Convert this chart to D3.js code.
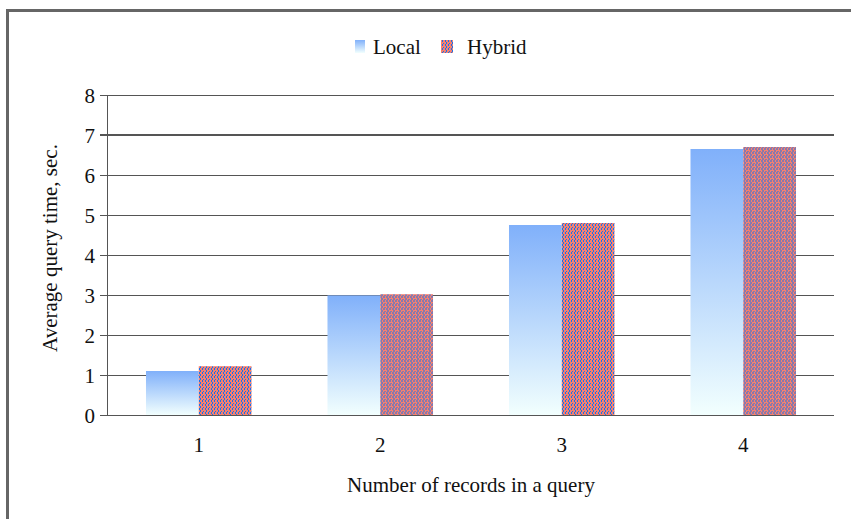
<!DOCTYPE html>
<html><head><meta charset="utf-8">
<script src="https://cdn.jsdelivr.net/npm/d3@7"></script>
<style>body{margin:0;background:#fff}svg{display:block}text{font-family:"Liberation Serif","Times New Roman",serif;fill:#111}</style>
</head><body><svg id="c" width="851" height="519"></svg>
<script>
const categories = ["1","2","3","4"];
const seriesNames = ["Local","Hybrid"];
const localValues = [1.1, 2.99, 4.75, 6.65];
const hybridValues = [1.22, 3.02, 4.8, 6.7];
const yTicks = [0,1,2,3,4,5,6,7,8];

(function(){
const svg = d3.select("#c");
const defs = svg.append("defs");
const grad = defs.append("linearGradient").attr("id","gLocal").attr("x1",0).attr("y1",0).attr("x2",0).attr("y2",1);
grad.append("stop").attr("offset","0%").attr("stop-color","#80b0fa");
grad.append("stop").attr("offset","100%").attr("stop-color","#f2fffe");
const pat = defs.append("pattern").attr("id","pHybrid").attr("patternUnits","userSpaceOnUse").attr("width",6).attr("height",4);
pat.append("rect").attr("width",6).attr("height",4).attr("fill","#f7806e");
pat.append("rect").attr("x",1).attr("y",0).attr("width",1).attr("height",2).attr("fill","#1a72ea");
pat.append("rect").attr("x",4).attr("y",0).attr("width",1).attr("height",2).attr("fill","#1a72ea");
pat.append("rect").attr("x",2).attr("y",2).attr("width",1).attr("height",2).attr("fill","#1a72ea");
pat.append("rect").attr("x",5).attr("y",3).attr("width",1).attr("height",1).attr("fill","#1a72ea");

// frame
svg.append("path").attr("d","M7.5,519 V10.5 H851").attr("fill","none").attr("stroke","#666").attr("stroke-width",3);

const pl=108, pr=834, pt=95, pb=415;
const x = d3.scaleBand().domain(categories).range([pl,pr]).padding(0);
const xs = d3.scaleBand().domain(seriesNames).range([0,x.bandwidth()]).paddingInner(0).paddingOuter(0.72);
const y = d3.scaleLinear().domain([0,8]).range([pb,pt]);

// gridlines
svg.append("g").selectAll("line").data(yTicks).join("line")
  .attr("x1",pl-8).attr("x2",pr).attr("y1",d=>y(d)).attr("y2",d=>y(d))
  .attr("stroke","#555").attr("stroke-width",d=>d===7?2:1).attr("shape-rendering","crispEdges");

// bars
const data = categories.map((c,i)=>({c, vals:[{s:"Local",v:localValues[i]},{s:"Hybrid",v:hybridValues[i]}]}));
svg.append("g").selectAll("g").data(data).join("g").attr("transform",d=>`translate(${x(d.c)},0)`)
  .selectAll("rect").data(d=>d.vals).join("rect")
  .attr("x",d=>xs(d.s)).attr("width",xs.bandwidth())
  .attr("y",d=>y(d.v)).attr("height",d=>y(0)-y(d.v))
  .attr("fill",d=>d.s==="Local"?"url(#gLocal)":"url(#pHybrid)");

// axes
const yAxis = d3.axisLeft(y).tickValues(yTicks).tickSize(8).tickPadding(5).tickFormat(d3.format("d"));
const gy = svg.append("g").attr("transform",`translate(${pl},0)`).call(yAxis);
gy.select(".domain").attr("stroke","#555").attr("d",`M-0.5,${pt}V${pb}`);
gy.selectAll(".tick line").attr("stroke","#555");
gy.selectAll("text").attr("font-size",21).attr("font-family","Liberation Serif, serif").attr("fill","#111").attr("dy","0.35em");

const xAxis = d3.axisBottom(x).tickSize(0).tickPadding(22);
const gx = svg.append("g").attr("transform",`translate(0,${pb})`).call(xAxis);
gx.select(".domain").remove();
gx.selectAll("text").attr("font-size",21).attr("font-family","Liberation Serif, serif").attr("fill","#111");

svg.append("text").attr("x",(pl+pr)/2).attr("y",492).attr("text-anchor","middle").attr("font-size",21).text("Number of records in a query");
svg.append("text").attr("transform","translate(57,248) rotate(-90)").attr("text-anchor","middle").attr("font-size",21).text("Average query time, sec.");

// legend
const lg = svg.append("g");
lg.append("rect").attr("x",355).attr("y",40).attr("width",10).attr("height",13).attr("fill","url(#gLocal)");
lg.append("text").attr("x",373).attr("y",54).attr("font-size",21).text(seriesNames[0]);
lg.append("rect").attr("x",441).attr("y",40).attr("width",12).attr("height",13).attr("fill","url(#pHybrid)");
lg.append("text").attr("x",467).attr("y",54).attr("font-size",21).text(seriesNames[1]);
})();
</script></body></html>
